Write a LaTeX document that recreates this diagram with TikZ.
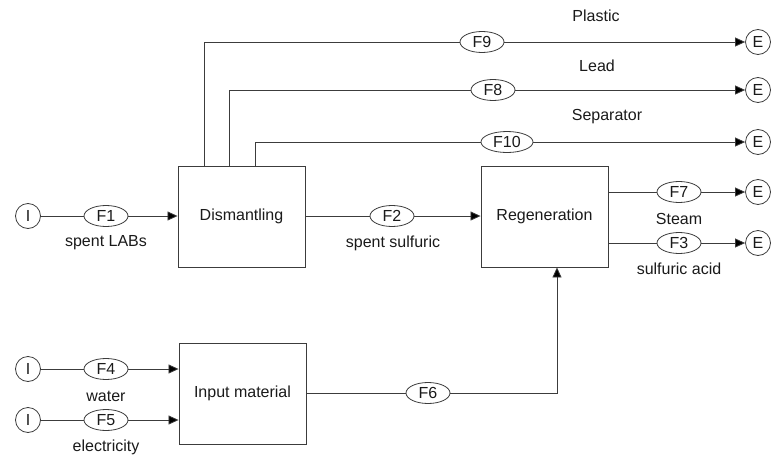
\documentclass[tikz,border=0pt]{standalone}
\usepackage{fontspec}
\setmainfont{Liberation Sans}
\usetikzlibrary{arrows.meta,shapes.geometric}
\definecolor{ink}{HTML}{1A1A1A}
\definecolor{wire}{HTML}{3C3C3C}
\tikzset{
  txt/.style={font=\fontsize{16}{18}\selectfont, text=ink},
  procbox/.style={draw=wire, line width=0.9pt, fill=white, minimum width=127pt, minimum height=101pt, inner sep=0pt, txt},
  flowtag/.style={draw=wire, line width=0.8pt, ellipse, minimum width=44pt, minimum height=21pt, inner sep=0pt, txt},
  term/.style={draw=wire, line width=0.8pt, circle, minimum size=25pt, inner sep=0pt, txt},
  caption/.style={inner sep=0pt, txt},
  wireline/.style={draw=wire, line width=0.8pt},
  feed/.style={wireline, -{Triangle[length=10pt,width=9pt,fill=black]}},
}
\begin{document}
\begin{tikzpicture}[x=1pt,y=-1pt]
\useasboundingbox (0,0) rectangle (771,458);

% process boxes
\node[procbox] (dis) at (241.5,216.5) {Dismantling};
\node[procbox] (reg) at (544.5,216.5) {Regeneration};
\node[procbox] (inp) at (242.5,393.5) {Input material};

% sources
\node[term] (i1) at (28,216) {I};
\node[term] (i4) at (28,369) {I};
\node[term] (i5) at (28,420) {I};

% sinks
\node[term] (e9) at (758,42) {E};
\node[term] (e8) at (758,90) {E};
\node[term] (e10) at (758,142) {E};
\node[term] (e7) at (758,192) {E};
\node[term] (e3) at (758,243) {E};

% flow tags
\node[flowtag] (f1) at (106,216) {F1};
\node[flowtag] (f2) at (392,216) {F2};
\node[flowtag] (f4) at (106,369) {F4};
\node[flowtag] (f5) at (106,420) {F5};
\node[flowtag] (f6) at (428,393) {F6};
\node[flowtag] (f7) at (679,192) {F7};
\node[flowtag] (f3) at (679,243) {F3};
\node[flowtag] (f9) at (482,42) {F9};
\node[flowtag] (f8) at (493,90) {F8};
\node[flowtag, minimum width=52pt] (f10) at (507,142) {F10};

% captions
\node[caption] (c1) at (106,243) {spent LABs};
\node[caption] (c2) at (393,243) {spent sulfuric};
\node[caption] (c4) at (106,396) {water};
\node[caption] (c5) at (106,447) {electricity};
\node[caption] (c7) at (679,219) {Steam};
\node[caption] (c3) at (679,269) {sulfuric acid};
\node[caption] (c9) at (596,16) {Plastic};
\node[caption] (c8) at (597,66) {Lead};
\node[caption] (c10) at (607,117) {Separator};

% branch corners above the dismantling box
\coordinate (b9) at (204,42);
\coordinate (b8) at (229,90);
\coordinate (b10) at (255,142);
\coordinate (r6) at (557,393);

% inputs
\draw[wireline] (i1) -- (f1);
\draw[feed] (f1) -- (f1 -| dis.west);
\draw[wireline] (i4) -- (f4);
\draw[feed] (f4) -- (f4 -| inp.west);
\draw[wireline] (i5) -- (f5);
\draw[feed] (f5) -- (f5 -| inp.west);

% main line
\draw[wireline] (f2 -| dis.east) -- (f2);
\draw[feed] (f2) -- (f2 -| reg.west);

% input material to regeneration
\draw[wireline] (f6 -| inp.east) -- (f6);
\draw[feed] (f6) -- (r6) -- (r6 |- reg.south);

% regeneration outputs
\draw[wireline] (f7 -| reg.east) -- (f7);
\draw[feed] (f7) -- (e7);
\draw[wireline] (f3 -| reg.east) -- (f3);
\draw[feed] (f3) -- (e3);

% dismantling outputs
\draw[wireline] (b9 |- dis.north) -- (b9) -- (f9);
\draw[feed] (f9) -- (e9);
\draw[wireline] (b8 |- dis.north) -- (b8) -- (f8);
\draw[feed] (f8) -- (e8);
\draw[wireline] (b10 |- dis.north) -- (b10) -- (f10);
\draw[feed] (f10) -- (e10);
\end{tikzpicture}
\end{document}
